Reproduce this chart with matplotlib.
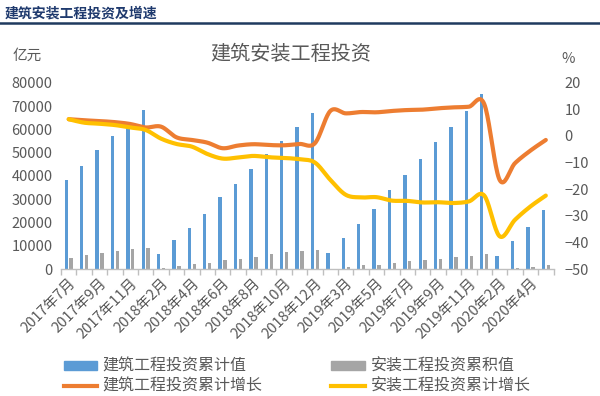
import numpy as np
import matplotlib
matplotlib.use("Agg")
import matplotlib.pyplot as plt
from matplotlib.lines import Line2D
from matplotlib.patches import Patch

plt.rcParams['font.family'] = ['Noto Sans CJK SC', 'DejaVu Sans']

categories = (
    [f"2017年{m}月" for m in range(7, 13)]
    + [f"2018年{m}月" for m in range(2, 13)]
    + [f"2019年{m}月" for m in range(2, 13)]
    + [f"2020年{m}月" for m in range(2, 6)]
)

# 建筑工程投资累计值 (亿元)
build_value = [38200, 44200, 51100, 57200, 63000, 68500,
               6600, 12400, 17500, 23600, 30800, 36600, 42800, 49300, 55100, 61200, 67100,
               7000, 13400, 19300, 25700, 33800, 40200, 47100, 54400, 61100, 67800, 75000,
               5700, 12000, 18200, 25300]
# 安装工程投资累积值 (亿元)
install_value = [4900, 5900, 6700, 7700, 8400, 9100,
                 600, 1300, 2000, 2700, 3700, 4400, 5300, 6400, 7200, 7700, 8200,
                 200, 700, 1600, 1900, 2600, 3300, 3700, 4300, 5100, 5600, 6300,
                 200, 300, 700, 1600]
# 建筑工程投资累计增长 (%)
build_growth = [6.3, 5.9, 5.6, 5.2, 4.5, 3.2,
                3.5, -0.5, -1.5, -2.5, -4.6, -3.6, -3.1, -3.4, -3.5, -3.0, -2.7,
                9.4, 8.5, 9.0, 8.9, 9.4, 9.75, 9.9, 10.4, 10.75, 11.0, 12.0,
                -16.5, -10.2, -5.5, -1.5]
# 安装工程投资累计增长 (%)
install_growth = [6.3, 5.0, 4.6, 4.1, 3.2, 2.25,
                  -1.0, -3.0, -4.0, -6.75, -8.5, -8.1, -7.5, -8.0, -8.25, -8.75, -10.0,
                  -16.5, -22.1, -23.1, -23.0, -24.3, -24.4, -25.0, -24.9, -25.2, -24.6, -22.4,
                  -37.7, -31.5, -26.5, -22.4]

BLUE = '#5B9BD5'
GRAY = '#A5A5A5'
ORANGE = '#ED7D31'
YELLOW = '#FFC000'
TXT = '#595959'


def smooth(xs, ys, n=20):
    xs = np.asarray(xs, float)
    ys = np.asarray(ys, float)
    P = np.column_stack([xs, ys])
    P = np.vstack([P[0], P, P[-1]])
    out = []
    t = np.linspace(0, 1, n, endpoint=False)
    for i in range(1, len(P) - 2):
        p0, p1, p2, p3 = P[i - 1], P[i], P[i + 1], P[i + 2]
        c1 = p1 + (p2 - p0) / 6
        c2 = p2 - (p3 - p1) / 6
        seg = ((1 - t) ** 3)[:, None] * p1 + (3 * (1 - t) ** 2 * t)[:, None] * c1 \
            + (3 * (1 - t) * t ** 2)[:, None] * c2 + (t ** 3)[:, None] * p2
        out.append(seg)
    out.append(P[-2][None, :])
    out = np.vstack(out)
    return out[:, 0], out[:, 1]


fig = plt.figure(figsize=(6.0, 3.96), dpi=100)
ax = fig.add_axes([0.1017, 0.3207, 0.9225 - 0.1017, 0.791 - 0.3207])
ax2 = ax.twinx()

x = np.arange(len(categories))
ax.bar(x - 0.16, build_value, width=0.22, color=BLUE, zorder=2)
ax.bar(x + 0.16, install_value, width=0.22, color=GRAY, zorder=2)

sx, sy = smooth(x, build_growth)
ax2.plot(sx, sy, color=ORANGE, lw=3, solid_capstyle='round', zorder=3)
sx, sy = smooth(x, install_growth)
ax2.plot(sx, sy, color=YELLOW, lw=3, solid_capstyle='round', zorder=3)

ax.set_xlim(-0.5, len(categories) - 0.5)
ax.set_ylim(0, 80000)
ax2.set_ylim(-50, 20)
ax.set_yticks(np.arange(0, 80001, 10000))
ax2.set_yticks(np.arange(-50, 21, 10))

for a in (ax, ax2):
    for s in a.spines.values():
        s.set_visible(False)
ax.spines['bottom'].set_visible(True)
ax.spines['bottom'].set_color('#BFBFBF')
ax.spines['bottom'].set_linewidth(1)

ax.tick_params(axis='y', length=0, labelsize=10.5, labelcolor=TXT, pad=6)
ax2.tick_params(axis='y', length=0, labelsize=10.5, labelcolor=TXT, pad=8)

ax.set_xticks(np.arange(-0.5, len(categories), 1))
ax.set_xticklabels([])
ax.tick_params(axis='x', which='major', length=4, color='#BFBFBF', width=1)
ax.set_xticks(x[::2], minor=True)
ax.set_xticklabels([categories[i] for i in x[::2]], minor=True, rotation=45,
                   ha='right', va='top', rotation_mode='anchor', fontsize=10.5, color=TXT)
ax.tick_params(axis='x', which='minor', length=0, pad=5)

# titles and units
fig.text(0.008, 0.965, '建筑安装工程投资及增速', fontsize=10, fontweight='bold',
         color='#1F3A6E', ha='left', va='center')
fig.add_artist(Line2D([0, 1], [0.941, 0.941], transform=fig.transFigure,
                      color='#1F3A5F', lw=1.8))
fig.text(0.485, 0.862, '建筑安装工程投资', fontsize=14.5, color=TXT,
         ha='center', va='center')
fig.text(0.045, 0.858, '亿元', fontsize=10.5, color=TXT, ha='center', va='center')
fig.text(0.947, 0.852, '%', fontsize=10.5, color=TXT, ha='center', va='center')

handles = [Patch(color=BLUE), Line2D([], [], color=ORANGE, lw=3),
           Patch(color=GRAY), Line2D([], [], color=YELLOW, lw=3)]
labels = ['建筑工程投资累计值', '建筑工程投资累计增长', '安装工程投资累积值', '安装工程投资累计增长']
fig.legend(handles, labels, ncol=2, loc='center', bbox_to_anchor=(0.495, 0.05),
           frameon=False, fontsize=11.5, labelcolor=TXT, handlelength=2.1,
           handleheight=0.5, handletextpad=0.35, columnspacing=4.3, labelspacing=0.18)

fig.savefig('out.png', dpi=100)
